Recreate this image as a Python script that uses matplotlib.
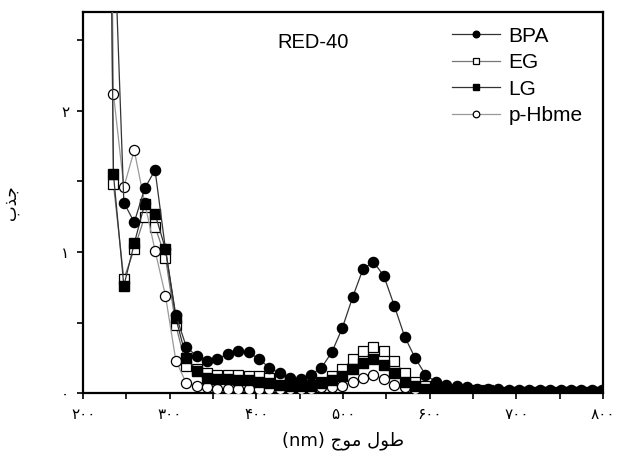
import matplotlib
matplotlib.use("Agg")
import matplotlib.pyplot as plt
from matplotlib.ticker import MultipleLocator

# wavelength grid (nm)
wavelength = [223, 235, 247, 259, 271, 283, 295, 307, 319, 331, 343, 355, 367,
              379, 391, 403, 415, 427, 439, 451, 463, 475, 487, 499, 511, 523,
              535, 547, 559, 571, 583, 595, 607, 619, 631, 643, 655, 667, 679,
              691, 703, 715, 727, 739, 751, 763, 775, 787, 799]

bpa = [9.0, 3.4, 1.35, 1.21, 1.45, 1.58, 1.02, 0.55, 0.33, 0.26, 0.23, 0.24, 0.28,
       0.30, 0.29, 0.24, 0.18, 0.14, 0.11, 0.10, 0.13, 0.18, 0.29, 0.46, 0.68, 0.88,
       0.93, 0.83, 0.62, 0.40, 0.25, 0.13, 0.08, 0.06, 0.05, 0.04, 0.03, 0.03, 0.03,
       0.02, 0.02, 0.02, 0.02, 0.02, 0.02, 0.02, 0.02, 0.02, 0.02]
eg = [9.0, 1.48, 0.81, 1.02, 1.25, 1.18, 0.96, 0.48, 0.19, 0.17, 0.14, 0.13, 0.13,
      0.13, 0.12, 0.12, 0.11, 0.09, 0.07, 0.06, 0.06, 0.08, 0.12, 0.17, 0.24, 0.30,
      0.33, 0.30, 0.23, 0.14, 0.08, 0.05, 0.03, 0.02, 0.02, 0.02, 0.02, 0.02, 0.01,
      0.01, 0.01, 0.01, 0.01, 0.01, 0.01, 0.01, 0.01, 0.01, 0.01]
lg = [9.0, 1.55, 0.76, 1.06, 1.34, 1.27, 1.02, 0.53, 0.25, 0.16, 0.11, 0.10, 0.10,
      0.09, 0.09, 0.08, 0.07, 0.06, 0.05, 0.05, 0.05, 0.07, 0.09, 0.12, 0.17, 0.21,
      0.24, 0.20, 0.14, 0.08, 0.05, 0.03, 0.02, 0.02, 0.02, 0.01, 0.01, 0.01, 0.01,
      0.01, 0.01, 0.01, 0.01, 0.01, 0.01, 0.01, 0.01, 0.01, 0.01]
phbme = [9.0, 2.12, 1.46, 1.72, 1.35, 1.01, 0.69, 0.23, 0.07, 0.05, 0.04, 0.03, 0.03,
         0.03, 0.03, 0.03, 0.03, 0.03, 0.03, 0.03, 0.03, 0.04, 0.04, 0.05, 0.08, 0.11,
         0.13, 0.10, 0.06, 0.04, 0.03, 0.02, 0.02, 0.02, 0.01, 0.01, 0.01, 0.01, 0.01,
         0.01, 0.01, 0.01, 0.01, 0.01, 0.01, 0.01, 0.01, 0.01, 0.01]

xticks = [200, 300, 400, 500, 600, 700, 800]
xtick_labels = ["۲۰۰", "۳۰۰", "۴۰۰", "۵۰۰", "۶۰۰", "۷۰۰", "۸۰۰"]
yticks = [0, 1, 2]
ytick_labels = ["۰", "۱", "۲"]

# Arabic text in visual (left-to-right) order with presentation forms
XLABEL = "(nm) \uFE9D\uFEEE\uFEE3 \uFEDD\uFEEE\uFEC3"   # طول موج (nm)
YLABEL = "\uFE8F\uFEAC\uFE9F"                          # جذب

FONTS = ["Liberation Sans", "DejaVu Sans"]
plt.rcParams["font.family"] = FONTS

fig = plt.figure(figsize=(6.25, 4.63), dpi=100)
ax = fig.add_axes([0.133, 0.151, 0.832, 0.823])

ms = 7.3
ax.plot(wavelength, eg, "-s", color="#777777", lw=0.9, ms=ms, mfc="white",
        mec="black", mew=0.9, label="EG", zorder=2)
ax.plot(wavelength, phbme, "-o", color="#999999", lw=0.9, ms=ms, mfc="white",
        mec="black", mew=0.9, label="p-Hbme", zorder=3)
ax.plot(wavelength, lg, "-s", color="#333333", lw=0.9, ms=ms, mfc="black",
        mec="black", label="LG", zorder=4)
ax.plot(wavelength, bpa, "-o", color="#333333", lw=0.9, ms=ms, mfc="black",
        mec="black", label="BPA", zorder=5)

ax.set_xlim(200, 800)
ax.set_ylim(0, 2.7)
ax.set_xticks(xticks)
ax.set_xticklabels(xtick_labels, family="DejaVu Sans", fontsize=11)
ax.set_yticks(yticks)
ax.set_yticklabels(ytick_labels, family="DejaVu Sans", fontsize=11)
ax.xaxis.set_minor_locator(MultipleLocator(50))
ax.yaxis.set_minor_locator(MultipleLocator(0.5))
ax.tick_params(which="both", direction="out", length=4, width=1.2,
               top=False, right=False)
ax.tick_params(axis="x", pad=6)
ax.tick_params(axis="y", pad=6)
for s in ax.spines.values():
    s.set_linewidth(1.6)

ax.set_xlabel(XLABEL, family="DejaVu Sans", fontsize=13, labelpad=7)
ax.set_ylabel(YLABEL, family="DejaVu Sans", fontsize=12, labelpad=30)

ax.text(0.442, 0.919, "RED-40", transform=ax.transAxes, ha="center",
        va="center", fontsize=14.5)

h, l = ax.get_legend_handles_labels()
order = [3, 0, 2, 1]
ax.legend([h[i] for i in order], [l[i] for i in order], loc="upper left",
          bbox_to_anchor=(0.71, 0.962), frameon=False, fontsize=15,
          markerscale=0.65, handlelength=2.3, handletextpad=0.4,
          labelspacing=0.36, borderpad=0, borderaxespad=0)

fig.savefig("out.png", dpi=100)
